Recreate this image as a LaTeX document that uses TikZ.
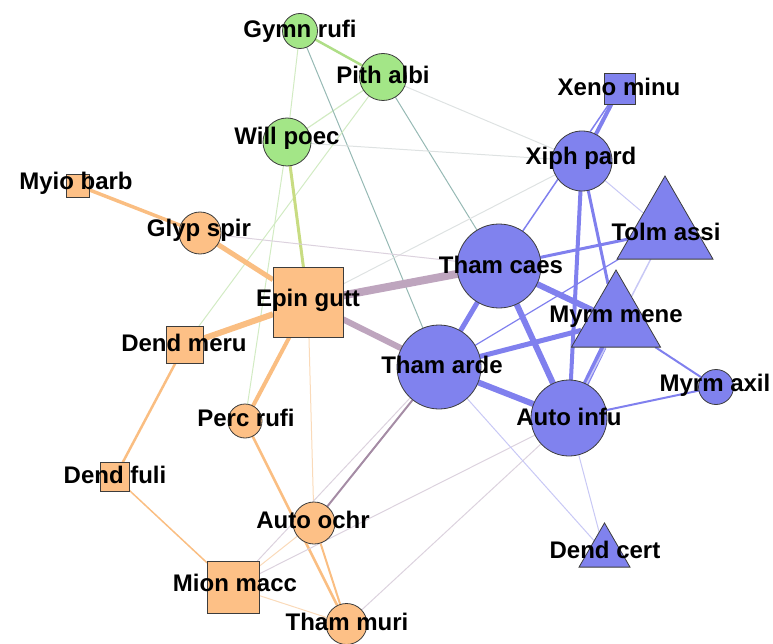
\documentclass[tikz,border=0pt]{standalone}
\usepackage{fontspec}
\setmainfont{Liberation Sans}
\usetikzlibrary{shapes.geometric,backgrounds}
\definecolor{ofill}{RGB}{253,192,134}
\definecolor{bfill}{RGB}{128,130,238}
\definecolor{gfill}{RGB}{163,230,135}
\definecolor{outl}{RGB}{60,60,60}
\definecolor{eora}{RGB}{250,190,130}
\definecolor{eoral}{RGB}{250,218,185}
\definecolor{eblu}{RGB}{128,128,238}
\definecolor{ebll}{RGB}{200,200,245}
\definecolor{epur}{RGB}{190,165,190}
\definecolor{epurd}{RGB}{165,140,165}
\definecolor{epurl}{RGB}{220,210,222}
\definecolor{eteal}{RGB}{150,185,180}
\definecolor{egrn}{RGB}{175,222,135}
\definecolor{egrnl}{RGB}{210,235,195}
\definecolor{eyg}{RGB}{200,220,130}
\definecolor{egry}{RGB}{222,226,226}
\begin{document}
\begin{tikzpicture}[x=1pt,y=-1pt,
  sq/.style={draw=outl,line width=0.8pt,rectangle,inner sep=0pt,outer sep=0pt,minimum size=#1},
  circ/.style={draw=outl,line width=0.8pt,circle,inner sep=0pt,outer sep=0pt,minimum size=#1},
  tri/.style={draw=outl,line width=0.8pt,regular polygon,regular polygon sides=3,inner sep=0pt,outer sep=0pt,minimum size=#1},
  lab/.style={font=\bfseries\fontsize{24}{28}\selectfont,inner sep=0pt,text=black},
  ed/.style={line width=#1}]
\useasboundingbox (0,0) rectangle (773,644);
% shapes
\node[circ=35,fill=gfill] (gr) at (300,31) {};
\node[circ=47,fill=gfill] (pa) at (383,77) {};
\node[circ=48,fill=gfill] (wp) at (287,142) {};
\node[sq=23,fill=ofill] (mb) at (78,185.5) {};
\node[circ=42,fill=ofill] (gs) at (200,233) {};
\node[sq=70,fill=ofill] (eg) at (308,302) {};
\node[sq=37,fill=ofill] (dm) at (185,345) {};
\node[circ=34,fill=ofill] (pr) at (245,421) {};
\node[sq=29,fill=ofill] (df) at (115,477) {};
\node[circ=42,fill=ofill] (ao) at (314,523) {};
\node[sq=52,fill=ofill] (mm) at (233,587) {};
\node[circ=41,fill=ofill] (tm) at (346.5,624) {};
\node[circ=84,fill=bfill] (tc) at (499,266) {};
\node[circ=84,fill=bfill] (ta) at (439,367) {};
\node[sq=31,fill=bfill] (xm) at (619.5,88.5) {};
\node[circ=60,fill=bfill] (xp) at (582,161) {};
\node[tri=110.8,fill=bfill] (tas) at (665,231.4) {};
\node[tri=102.8,fill=bfill] (mme) at (616,321.4) {};
\node[circ=35,fill=bfill] (max) at (716,387) {};
\node[circ=76,fill=bfill] (ai) at (569,418) {};
\node[tri=58.9,fill=bfill] (dc) at (604.5,552.4) {};
% edges
\begin{scope}[on background layer]
\draw[ed=2.5,egrn] (gr) -- (pa);
\draw[ed=1,egrnl] (gr) -- (wp);
\draw[ed=1.2,egrnl] (pa) -- (wp);
\draw[ed=1,eteal] (gr) -- (ta);
\draw[ed=1,eteal] (pa) -- (tc);
\draw[ed=1,egry] (pa) -- (xp);
\draw[ed=1,egry] (wp) -- (xp);
\draw[ed=1,egry] (eg) -- (xp);
\draw[ed=1,egrnl] (pa) -- (dm);
\draw[ed=1,egrnl] (wp) -- (pr);
\draw[ed=3,eyg] (wp) -- (eg);
\draw[ed=1,epurl] (gs) -- (tc);
\draw[ed=8,epur] (eg) -- (tc);
\draw[ed=6,epur] (eg) -- (ta);
\draw[ed=3.5,eora] (mb) -- (gs);
\draw[ed=5,eora] (gs) -- (eg);
\draw[ed=6,eora] (dm) -- (eg);
\draw[ed=4,eora] (eg) -- (pr);
\draw[ed=2.5,eora] (dm) -- (df);
\draw[ed=1.5,eora] (df) -- (mm);
\draw[ed=2.5,eora] (pr) -- (tm);
\draw[ed=2,eora] (ao) -- (tm);
\draw[ed=1,eoral] (eg) -- (ao);
\draw[ed=1,eoral] (mm) -- (tm);
\draw[ed=1,eoral] (mm) -- (ao);
\draw[ed=2,epurd] (ao) -- (ta);
\draw[ed=1,epurl] (mm) -- (ta);
\draw[ed=1,epurl] (mm) -- (ai);
\draw[ed=1,epurl] (tm) -- (ai);
\draw[ed=1,ebll] (ta) -- (dc);
\draw[ed=1,ebll] (ai) -- (dc);
\draw[ed=4,eblu] (xm) -- (xp);
\draw[ed=1.5,eblu] (xm) -- (tc);
\draw[ed=4,eblu] (xp) -- (ai);
\draw[ed=3,eblu] (xp) -- (mme);
\draw[ed=1,ebll] (xp) -- (tas);
\draw[ed=3,eblu] (tc) -- (tas);
\draw[ed=6,eblu] (tc) -- (mme);
\draw[ed=6,eblu] (tc) -- (ai);
\draw[ed=5,eblu] (tc) -- (ta);
\draw[ed=5,eblu] (ta) -- (mme);
\draw[ed=1.2,eblu] (ta) -- (tas);
\draw[ed=6,eblu] (ta) -- (ai);
\draw[ed=6,eblu] (mme) -- (ai);
\draw[ed=1.5,ebll] (tas) -- (ai);
\draw[ed=2,eblu] (mme) -- (max);
\draw[ed=2,eblu] (ai) -- (max);
\end{scope}
% labels
\node[lab] (l-gr) at (300,31) {Gymn rufi};
\node[lab] (l-pa) at (383,75) {Pith albi};
\node[lab] (l-wp) at (287,138) {Will poec};
\node[lab] (l-mb) at (76,183) {Myio barb};
\node[lab] (l-gs) at (199,230) {Glyp spir};
\node[lab] (l-eg) at (308,300) {Epin gutt};
\node[lab] (l-dm) at (184,343) {Dend meru};
\node[lab] (l-pr) at (246,418) {Perc rufi};
\node[lab] (l-df) at (115,475) {Dend fuli};
\node[lab] (l-ao) at (313,520) {Auto ochr};
\node[lab] (l-mm) at (235,583) {Mion macc};
\node[lab] (l-tm) at (347,622) {Tham muri};
\node[lab] (l-tc) at (501,265) {Tham caes};
\node[lab] (l-ta) at (442,365) {Tham arde};
\node[lab] (l-xm) at (619,87) {Xeno minu};
\node[lab] (l-xp) at (581,158) {Xiph pard};
\node[lab] (l-tas) at (666,232) {Tolm assi};
\node[lab] (l-mme) at (616,317) {Myrm mene};
\node[lab] (l-max) at (715,385) {Myrm axil};
\node[lab] (l-ai) at (569,417) {Auto infu};
\node[lab] (l-dc) at (605,550) {Dend cert};
\end{tikzpicture}
\end{document}
